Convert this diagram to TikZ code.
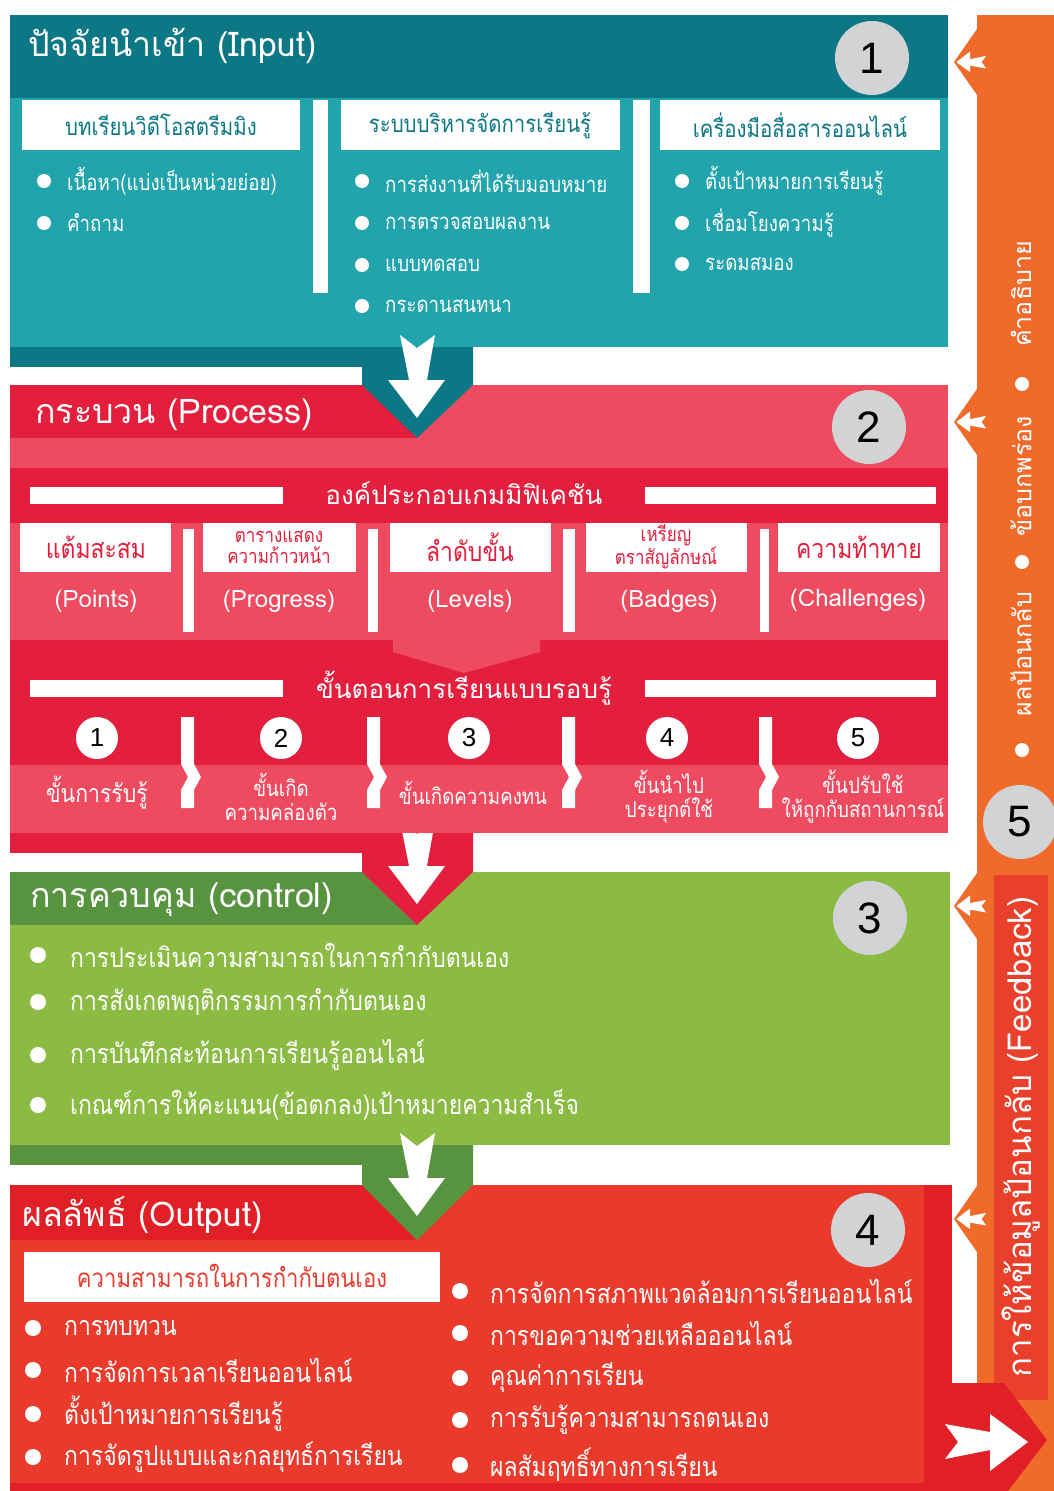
\documentclass[tikz,border=0pt]{standalone}
\usepackage{fontspec}
\newfontfamily\thai[Script=Thai]{Loma}
\newfontfamily\thaic[Script=Thai,FakeStretch=0.85]{Loma}
\newfontfamily\numf{Liberation Sans}
\definecolor{tealD}{HTML}{0C7885}
\definecolor{tealL}{HTML}{22A4AD}
\definecolor{redD}{HTML}{E31F3D}
\definecolor{redL}{HTML}{EE4A60}
\definecolor{greenD}{HTML}{589440}
\definecolor{greenL}{HTML}{8BBB42}
\definecolor{outL}{HTML}{E93A2B}
\definecolor{outD}{HTML}{E01F26}
\definecolor{fborange}{HTML}{F06A2A}
\definecolor{fbred}{HTML}{E9402B}
\definecolor{badge}{HTML}{D1D3D4}
\newcommand\fs[1]{\fontsize{#1}{#1}\selectfont}
\newcommand\fsl[2]{\fontsize{#1}{#2}\selectfont}
\tikzset{
  flowarrow/.pic={\fill[white] (-17,-45) -- (0,-32) -- (18,-45) -- (10,0) -- (28,0) -- (0,38) -- (-29,0) -- (-8,0) -- cycle;},
  bignum/.style={circle, fill=badge, minimum size=74pt, inner sep=0pt, font=\numf\fs{44}, text=black},
  stepnum/.style={circle, fill=white, minimum size=42pt, inner sep=0pt, font=\numf\fs{26}, text=black},
  title/.style={anchor=west, text=white, font=\thai\fs{34}, inner sep=0pt},
  item/.style={anchor=west, text=white, inner sep=0pt},
  wtext/.style={text=white, inner sep=0pt, align=center},
  sidetext/.style={text=white, inner sep=0pt, rotate=90, font=\thai\fs{25}},
}
\begin{document}
\begin{tikzpicture}[x=1pt,y=-1pt]
\useasboundingbox (0,0) rectangle (1054,1491);
\fill[white] (0,0) rectangle (1054,1491);

% feedback bar on the right, with a notch pointing at each stage
\fill[fborange] (977,15) rectangle (1054,1491);
\foreach \c in {62,422,906,1219}
  \fill[fborange] (977,\c-33) -- (954,\c) -- (977,\c+33) -- cycle;

% stage 1: input
\fill[tealL] (10,15) rectangle (948,347);
\fill[tealD] (10,15) rectangle (948,98);
\fill[tealD] (10,347) rectangle (473,367);

% stage 2: process
\fill[redL] (10,385) rectangle (948,833);
\fill[redD] (10,385) rectangle (417,438);
\fill[redD] (10,468) rectangle (948,523);
\fill[redD] (10,640) rectangle (948,765);
\fill[redL] (393,640) -- (540,640) -- (540,652) -- (464,673) -- (393,652) -- cycle;
\fill[redD] (10,833) rectangle (473,853);

% stage 3: control
\fill[greenL] (10,872) rectangle (950,1145);
\fill[greenD] (10,872) rectangle (417,925);
\fill[greenD] (10,1145) rectangle (473,1165);

% stage 4: output
\fill[outL] (10,1185) rectangle (952,1491);
\fill[outD] (10,1185) rectangle (417,1240);
\fill[outD] (924,1185) rectangle (952,1491);
\fill[outD] (10,1483) rectangle (952,1491);

% downward connectors between the stages
\fill[tealD] (362,347) -- (473,347) -- (473,385) -- (417,438) -- (362,385) -- cycle;
\fill[redD] (362,833) -- (473,833) -- (473,872) -- (417,925) -- (362,872) -- cycle;
\fill[greenD] (362,1145) -- (473,1145) -- (473,1185) -- (417,1240) -- (362,1185) -- cycle;
\pic at (417,380) {flowarrow};
\pic at (417,866) {flowarrow};
\pic at (417,1178) {flowarrow};

% feedback band and the outgoing arrow
\fill[fbred] (994,875) rectangle (1048,1400);
\fill[outD] (924,1383) -- (1004,1383) -- (1047,1440) -- (1008,1491) -- (924,1491) -- cycle;
\pic[rotate=90] at (990,1442) {flowarrow};
\foreach \c in {62,422,906,1219}
  \pic[scale=0.36,rotate=-90] at (970,\c) {flowarrow};

% ---------- stage 1 content ----------
\node[title] (inTitle) at (28,46) {ปัจจัยนำเข้า (Input)};
\node[bignum] (n1) at (872,58) {1};
\fill[white] (22,100) rectangle (300,150);
\fill[white] (341,100) rectangle (620,150);
\fill[white] (660,100) rectangle (940,150);
\fill[white] (313,100) rectangle (328,293);
\fill[white] (633,100) rectangle (650,293);
\node[wtext, text=tealD, font=\thaic\fs{24}] (inA) at (161,125) {บทเรียนวิดีโอสตรีมมิง};
\node[wtext, text=tealD, font=\thaic\fs{24}] (inB) at (480,125) {ระบบบริหารจัดการเรียนรู้};
\node[wtext, text=tealD, font=\thaic\fs{24}] (inC) at (800,125) {เครื่องมือสื่อสารออนไลน์};
\begin{scope}[every node/.style={item, font=\thaic\fs{22}}]
  \foreach \y/\t [count=\i] in {181/{เนื้อหา(แบ่งเป็นหน่วยย่อย)},223/{คำถาม}}{
    \fill[white] (44,\y) circle (7);
    \node (inA\i) at (67,\y) {\t};}
  \foreach \y/\t [count=\i] in {181/{การส่งงานที่ได้รับมอบหมาย},223/{การตรวจสอบผลงาน},265/{แบบทดสอบ},306/{กระดานสนทนา}}{
    \fill[white] (362,\y) circle (7);
    \node (inB\i) at (385,\y) {\t};}
  \foreach \y/\t [count=\i] in {181/{ตั้งเป้าหมายการเรียนรู้},223/{เชื่อมโยงความรู้},264/{ระดมสมอง}}{
    \fill[white] (682,\y) circle (7);
    \node (inC\i) at (705,\y) {\t};}
\end{scope}

% ---------- stage 2 content ----------
\node[title] (prTitle) at (35,415) {กระบวน (Process)};
\node[bignum] (n2) at (869,427) {2};
\fill[white] (30,487) rectangle (283,504);
\fill[white] (645,487) rectangle (936,504);
\node[wtext, font=\thai\fs{26}] (gam) at (464,493) {องค์ประกอบเกมมิฟิเคชัน};
\foreach \a/\b in {20/171,203/356,390/551,586/747,778/940}
  \fill[white] (\a,523) rectangle (\b,572);
\foreach \a/\b in {183/194,368/378,563/575,760/769}
  \fill[white] (\a,529) rectangle (\b,632);
\node[wtext, text=redD, font=\thaic\fs{27}] (gP) at (96,547) {แต้มสะสม};
\node[wtext, text=redD, font=\thaic\fsl{20}{21}] (gR) at (279,547) {ตารางแสดง\\ความก้าวหน้า};
\node[wtext, text=redD, font=\thaic\fs{27}] (gL) at (470,547) {ลำดับขั้น};
\node[wtext, text=redD, font=\thaic\fsl{20}{21}] (gB) at (666,547) {เหรียญ\\ตราสัญลักษณ์};
\node[wtext, text=redD, font=\thaic\fs{27}] (gC) at (859,547) {ความท้าทาย};
\begin{scope}[every node/.style={wtext, font=\thai\fs{24}}]
  \node (eP) at (96,601) {(Points)};
  \node (eR) at (279,601) {(Progress)};
  \node (eL) at (470,601) {(Levels)};
  \node (eB) at (669,601) {(Badges)};
  \node (eC) at (858,600) {(Challenges)};
\end{scope}
\fill[redL] (10,765) rectangle (948,833);
\fill[white] (30,680) rectangle (283,697);
\fill[white] (645,680) rectangle (936,697);
\node[wtext, font=\thai\fs{26}] (mast) at (464,688) {ขั้นตอนการเรียนแบบรอบรู้};
\foreach \x in {181,367,562,759}
  \fill[white] (\x,717) -- (\x+13,717) -- (\x+13,764) -- (\x+20,777) -- (\x+13,790) -- (\x+13,808)
     -- (\x,808) -- (\x,790) -- (\x+7,777) -- (\x,764) -- cycle;
\node[stepnum] (s1) at (97,738) {1};
\node[stepnum] (s2) at (281,738) {2};
\node[stepnum] (s3) at (469,738) {3};
\node[stepnum] (s4) at (667,738) {4};
\node[stepnum] (s5) at (858,738) {5};
\node[wtext, font=\thaic\fs{25}] (l1) at (97,793) {ขั้นการรับรู้};
\node[wtext, font=\thaic\fsl{22}{24}] (l2) at (281,797) {ขั้นเกิด\\ความคล่องตัว};
\node[wtext, font=\thaic\fs{22}] (l3) at (473,793) {ขั้นเกิดความคงทน};
\node[wtext, font=\thaic\fsl{22}{24}] (l4) at (669,797) {ขั้นนำไป\\ประยุกต์ใช้};
\node[wtext, font=\thaic\fsl{22}{24}] (l5) at (863,797) {ขั้นปรับใช้\\ให้ถูกกับสถานการณ์};

% ---------- stage 3 content ----------
\node[title] (coTitle) at (30,900) {การควบคุม (control)};
\node[bignum] (n3) at (870,918) {3};
\begin{scope}[every node/.style={item, font=\thaic\fs{27}}]
  \foreach \y/\t [count=\i] in {955/{การประเมินความสามารถในการกำกับตนเอง},1002/{การสังเกตพฤติกรรมการกำกับตนเอง},1055/{การบันทึกสะท้อนการเรียนรู้ออนไลน์},1105/{เกณฑ์การให้คะแนน(ข้อตกลง)เป้าหมายความสำเร็จ}}{
    \fill[white] (38,\y) circle (8);
    \node (co\i) at (70,\y) {\t};}
\end{scope}

% ---------- stage 4 content ----------
\node[title] (ouTitle) at (22,1215) {ผลลัพธ์ (Output)};
\node[bignum] (n4) at (868,1230) {4};
\fill[white] (24,1252) rectangle (440,1302);
\node[wtext, text=outL, font=\thaic\fs{26}] (self) at (232,1276) {ความสามารถในการกำกับตนเอง};
\begin{scope}[every node/.style={item, font=\thaic\fs{27}}]
  \foreach \y/\t [count=\i] in {1328/{การทบทวน},1370/{การจัดการเวลาเรียนออนไลน์},1414/{ตั้งเป้าหมายการเรียนรู้},1457/{การจัดรูปแบบและกลยุทธ์การเรียน}}{
    \fill[white] (33,\y) circle (8);
    \node (ouA\i) at (64,\y) {\t};}
  \foreach \y/\t [count=\i] in {1291/{การจัดการสภาพแวดล้อมการเรียนออนไลน์},1333/{การขอความช่วยเหลือออนไลน์},1378/{คุณค่าการเรียน},1420/{การรับรู้ความสามารถตนเอง},1465/{ผลสัมฤทธิ์ทางการเรียน}}{
    \fill[white] (460,\y) circle (8);
    \node (ouB\i) at (490,\y) {\t};}
\end{scope}

% ---------- feedback bar content ----------
\node[sidetext] (fb1) at (1021,294) {คำอธิบาย};
\node[sidetext] (fb2) at (1021,476) {ข้อบกพร่อง};
\node[sidetext] (fb3) at (1021,654) {ผลป้อนกลับ};
\foreach \y in {384,562,750} \fill[white] (1022,\y) circle (7);
\node[bignum] (n5) at (1020,822) {5};
\node[text=white, inner sep=0pt, rotate=90, font=\thai\fs{33}] (fbMain) at (1021,1137) {การให้ข้อมูลป้อนกลับ (Feedback)};
\end{tikzpicture}
\end{document}
